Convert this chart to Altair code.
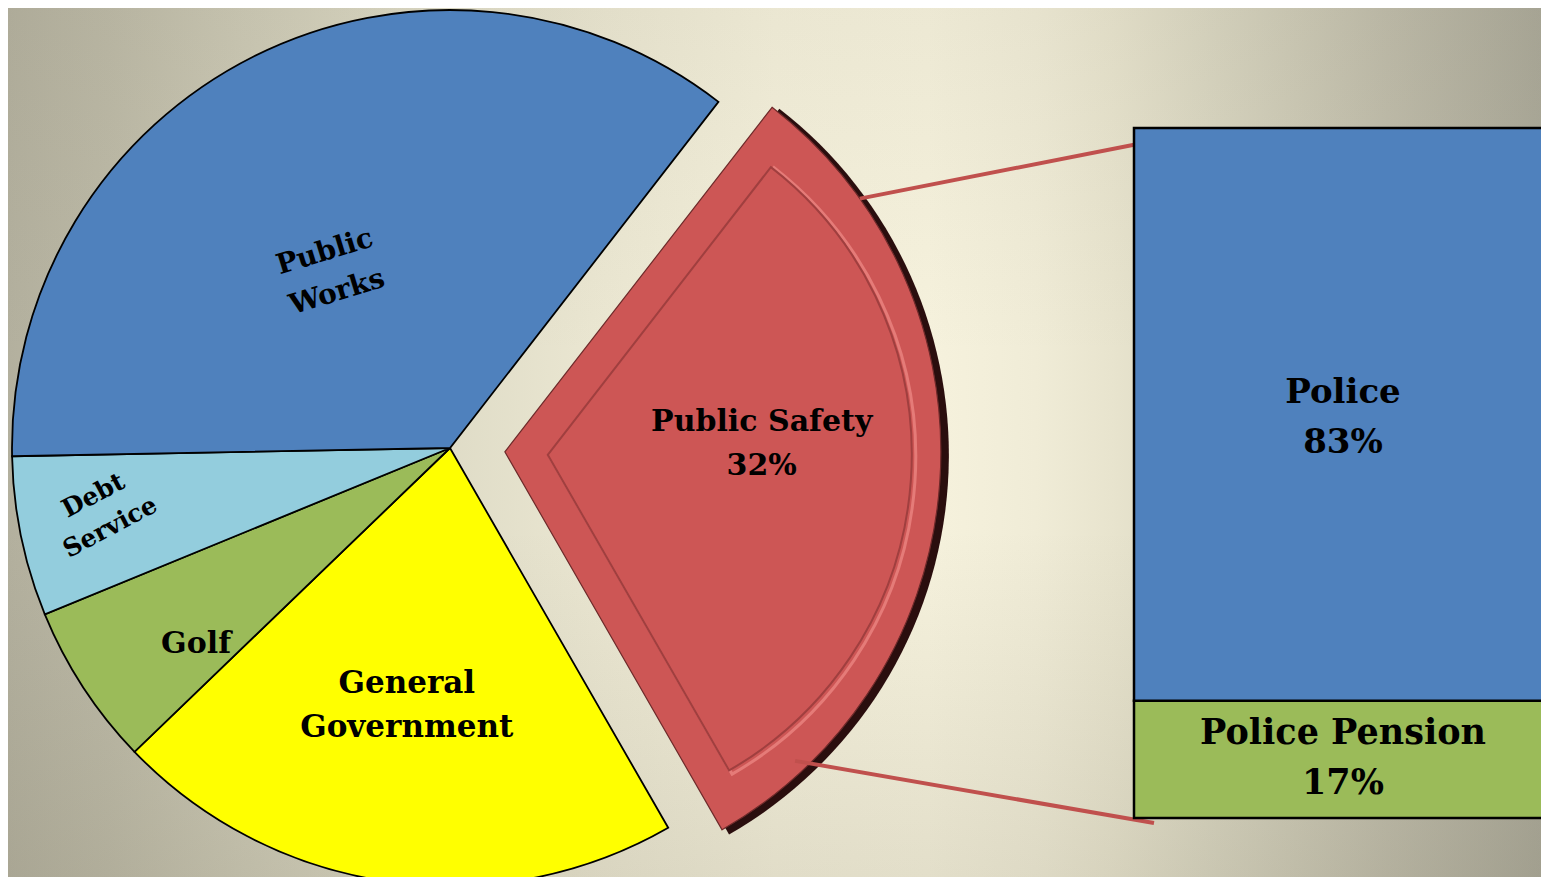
import math
import altair as alt
import pandas as pd

# ---------------- data ----------------
categories = ["Public Safety", "General Government", "Golf", "Debt Service", "Public Works"]
shares = [31.2, 21.1, 6.0, 5.9, 35.8]
slice_labels = ["Public Safety\n32%", "General\nGovernment", "Golf", "Debt\nService", "Public\nWorks"]

sub_categories = ["Police Pension", "Police"]
sub_shares = [17, 83]
sub_labels = ["Police Pension\n17%", "Police\n83%"]

color_domain = categories + sub_categories
color_range = ["#CD5655", "#FFFF00", "#9BBB59", "#93CDDD", "#4F81BD", "#9BBB59", "#4F81BD"]

# ---------------- layout ----------------
W, H = 1533, 869
OX, OY, R = 442, 440, 438            # pie centre / radius
START_DEG = 37.8                      # where the first slice starts (clockwise from 12 o'clock)
EXPLODE = 55                          # exploded slice offset
INSET = 43                            # bevel inset of the exploded slice
BAR_X0, BAR_X1 = 1126, 1545
BAR_Y_RANGE = [810, 120]

cum = 0.0
starts, ends = [], []
for s in shares:
    starts.append(cum)
    cum += s
    ends.append(cum)
total = cum
pie_df = pd.DataFrame({"category": categories, "start": starts, "end": ends,
                       "mid": [(a + b) / 2 for a, b in zip(starts, ends)],
                       "label": slice_labels})

bcum = 0.0
bstarts, bends = [], []
for s in sub_shares:
    bstarts.append(bcum)
    bcum += s
    bends.append(bcum)
bar_df = pd.DataFrame({"category": sub_categories, "start": bstarts, "end": bends,
                       "mid": [(a + b) / 2 for a, b in zip(bstarts, bends)],
                       "label": sub_labels})

a0 = math.radians(START_DEG)
theta_scale = alt.Scale(domain=[0, total], range=[a0, a0 + 2 * math.pi])
color_scale = alt.Scale(domain=color_domain, range=color_range)
y_scale = alt.Scale(domain=[0, 100], range=BAR_Y_RANGE)

ps_i = categories.index("Public Safety")
ps_mid_deg = START_DEG + (pie_df["mid"][ps_i] / total) * 360
ps_dx = EXPLODE * math.sin(math.radians(ps_mid_deg))
ps_dy = -EXPLODE * math.cos(math.radians(ps_mid_deg))
PSX, PSY = OX + ps_dx, OY + ps_dy
INX = PSX + INSET * math.sin(math.radians(ps_mid_deg))
INY = PSY - INSET * math.cos(math.radians(ps_mid_deg))

# ---------------- background ----------------
one = pd.DataFrame({"k": [0]})
bg = alt.Chart(one).mark_rect(
    fill={"gradient": "linear", "x1": 0, "y1": 0.5, "x2": 1, "y2": 0.5,
          "stops": [{"offset": 0.0, "color": "#B3B09E"}, {"offset": 0.065, "color": "#BCB9A6"},
                    {"offset": 0.15, "color": "#CBC8B4"}, {"offset": 0.26, "color": "#DCD9C4"},
                    {"offset": 0.39, "color": "#EBE7D2"}, {"offset": 0.5, "color": "#F4F0DB"},
                    {"offset": 0.6, "color": "#F6F2DD"}, {"offset": 0.67, "color": "#F0ECD7"},
                    {"offset": 0.72, "color": "#E8E4CE"}, {"offset": 0.78, "color": "#DAD7C2"},
                    {"offset": 0.84, "color": "#CDCAB6"}, {"offset": 0.9, "color": "#BFBCAA"},
                    {"offset": 1.0, "color": "#AAA898"}]},
    stroke=None,
).encode(x=alt.value(0), x2=alt.value(W), y=alt.value(0), y2=alt.value(H))

bg_shade = alt.Chart(one).mark_rect(
    fill={"gradient": "linear", "x1": 0.5, "y1": 0, "x2": 0.5, "y2": 1,
          "stops": [{"offset": 0.0, "color": "rgba(110,105,85,0.07)"},
                    {"offset": 0.4, "color": "rgba(110,105,85,0)"},
                    {"offset": 0.6, "color": "rgba(110,105,85,0)"},
                    {"offset": 1.0, "color": "rgba(110,105,85,0.14)"}]},
    stroke=None,
).encode(x=alt.value(0), x2=alt.value(W), y=alt.value(0), y2=alt.value(H))

# ---------------- pie ----------------
def arc_enc(cx, cy, r):
    return dict(
        theta=alt.Theta("start:Q", scale=theta_scale, stack=None),
        theta2="end:Q",
        x=alt.value(cx), y=alt.value(cy), radius=alt.value(r),
    )

pie = alt.Chart(pie_df).transform_filter(
    alt.datum.category != "Public Safety"
).mark_arc(stroke="black", strokeWidth=1.8).encode(
    color=alt.Color("category:N", scale=color_scale, legend=None),
    **arc_enc(OX, OY, R),
)

ps_data = alt.Chart(pie_df).transform_filter(alt.datum.category == "Public Safety")
ps_shadow = ps_data.mark_arc(fill="#2A0E0E").encode(**arc_enc(PSX + 6, PSY + 3, R))
ps_main = ps_data.mark_arc(stroke="#6E2A2A", strokeWidth=1.2).encode(
    color=alt.Color("category:N", scale=color_scale, legend=None),
    **arc_enc(PSX, PSY, R - 2))
ps_inner_hl = ps_data.mark_arc(fill=None, stroke="#E57B78", strokeWidth=3).encode(
    **arc_enc(INX + 2, INY + 2, R - INSET - 29))
ps_inner = ps_data.mark_arc(stroke="#A03F3F", strokeWidth=2).encode(
    color=alt.Color("category:N", scale=color_scale, legend=None),
    **arc_enc(INX, INY, R - INSET - 31))

# connector lines from the exploded slice to the bar
def on_slice(theta_deg, r):
    return PSX + r * math.sin(math.radians(theta_deg)), PSY - r * math.cos(math.radians(theta_deg))

t1 = on_slice(54.5, R - 2)
t2 = on_slice(136.8, R - 14)
rule_top = alt.Chart(one).mark_rule(color="#C0504D", strokeWidth=4).encode(
    x=alt.value(t1[0]), y=alt.value(t1[1]), x2=alt.value(BAR_X0 + 14), y2=alt.value(134))
rule_bot = alt.Chart(one).mark_rule(color="#C0504D", strokeWidth=4).encode(
    x=alt.value(t2[0]), y=alt.value(t2[1]), x2=alt.value(BAR_X0 + 20), y2=alt.value(815))

bars = alt.Chart(bar_df).mark_rect(stroke="black", strokeWidth=2.5).encode(
    x=alt.value(BAR_X0), x2=alt.value(BAR_X1),
    y=alt.Y("start:Q", scale=y_scale, axis=None), y2="end:Q",
    color=alt.Color("category:N", scale=color_scale, legend=None),
)

FONT = "DejaVu Serif"

bar_text_layers = []
for cat, size, dy in [("Police", 34, -21), ("Police Pension", 35, -26)]:
    bar_text_layers.append(
        alt.Chart(bar_df).transform_filter(alt.datum.category == cat).mark_text(
            font=FONT, fontWeight="bold", fontSize=size, lineBreak="\n", lineHeight=50,
            align="center", baseline="middle", color="black", dy=dy,
        ).encode(x=alt.value(1335), y=alt.Y("mid:Q", scale=y_scale, axis=None), text="label:N")
    )

# per label: theta nudge (deg), radius, font size, line height, rotation, centre
label_layout = {
    "Public Works":       dict(nudge=-7.5, r=212, size=28, lh=42, angle=343, cx=OX, cy=OY),
    "Debt Service":       dict(nudge=1.4, r=354, size=25, lh=36, angle=332, cx=OX, cy=OY),
    "Golf":               dict(nudge=-4.6, r=321, size=30, lh=40, angle=0, cx=OX, cy=OY),
    "General Government": dict(nudge=1.4, r=262, size=31, lh=44, angle=0, cx=OX, cy=OY),
    "Public Safety":      dict(nudge=-5.8, r=257, size=30, lh=44, angle=0, cx=PSX, cy=PSY),
}

label_layers = []
for cat, lay in label_layout.items():
    n_lines = slice_labels[categories.index(cat)].count("\n") + 1
    lt = alt.Chart(pie_df).transform_filter(alt.datum.category == cat).transform_calculate(
        lpos=f"datum.mid + {lay['nudge'] / 360 * total}"
    ).mark_text(
        font=FONT, fontWeight="bold", fontSize=lay["size"], lineBreak="\n", lineHeight=lay["lh"],
        align="center", baseline="middle", color="black", angle=lay["angle"],
        dy=-(n_lines - 1) * lay["lh"] / 2,
    ).encode(
        theta=alt.Theta("lpos:Q", scale=theta_scale, stack=None),
        radius=alt.value(lay["r"]),
        x=alt.value(lay["cx"]), y=alt.value(lay["cy"]),
        text="label:N",
    )
    label_layers.append(lt)

chart = alt.layer(
    bg, bg_shade, pie, ps_shadow, ps_main, ps_inner_hl, ps_inner, rule_top, rule_bot, bars,
    *bar_text_layers, *label_layers
).properties(
    width=W, height=H, padding=0, autosize=alt.AutoSizeParams(type="none")
).configure_view(stroke=None)

chart.save("out.html", embed_options={"renderer": "svg", "actions": False})
